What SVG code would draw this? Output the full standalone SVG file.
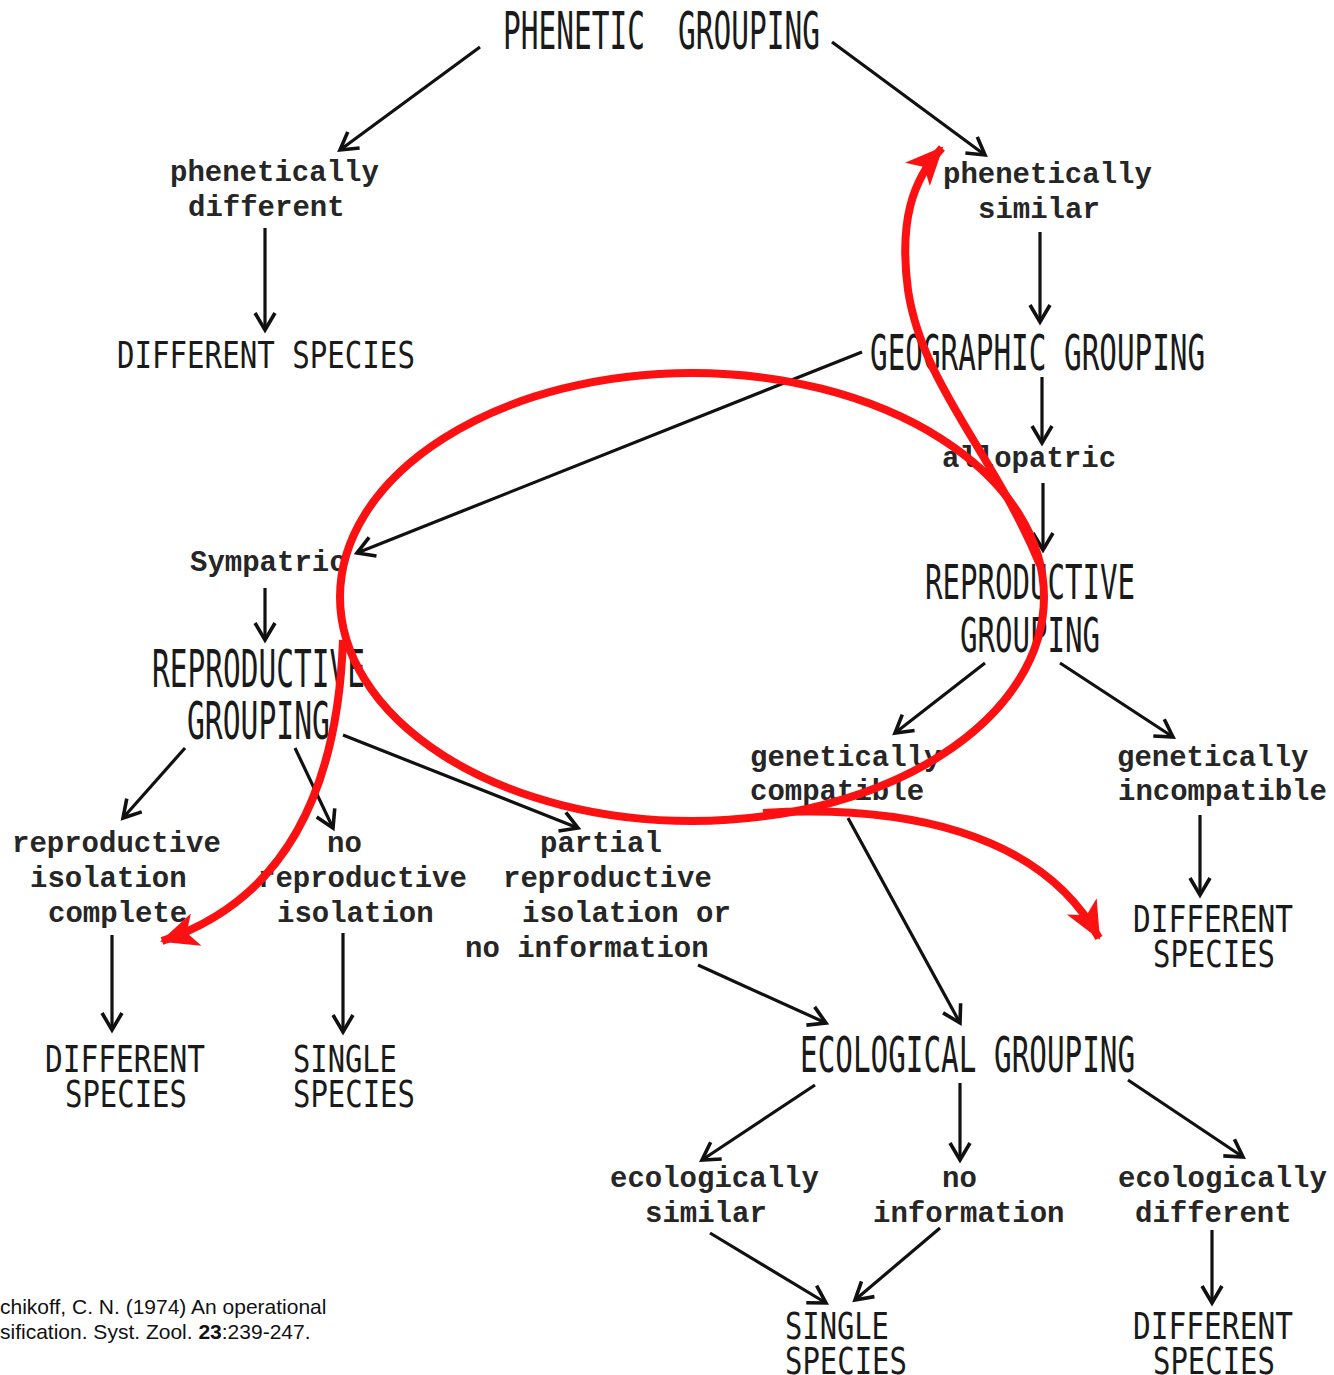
<svg xmlns="http://www.w3.org/2000/svg" width="1334" height="1375" viewBox="0 0 1334 1375">
<style>
.cap{font-family:"DejaVu Sans Mono","Liberation Mono",monospace;fill:#1a1a1a;}
.low{font-family:"Liberation Mono","Courier New",monospace;font-weight:bold;font-size:29px;fill:#262626;}
.ln{stroke:#111;stroke-width:3.2;fill:none;marker-end:url(#ah);}
.red{stroke:#fb1111;stroke-width:8;fill:none;}
.redA{stroke:#fb1111;stroke-width:8;fill:none;marker-end:url(#rh);}
.cite{font-family:"Liberation Sans",Arial,sans-serif;font-size:21px;fill:#111;}
</style>
<defs>
<marker id="ah" markerUnits="userSpaceOnUse" viewBox="-22 -13 26 26" refX="0" refY="0" markerWidth="26" markerHeight="26" orient="auto">
<path d="M-17,-10 L0,0 L-17,10" fill="none" stroke="#111" stroke-width="3.6" stroke-linejoin="miter"/>
</marker>
<marker id="rh" markerUnits="userSpaceOnUse" viewBox="-40 -20 44 40" refX="0" refY="0" markerWidth="44" markerHeight="40" orient="auto">
<path d="M2,0 L-36,-17 L-26,0 L-36,17 Z" fill="#fb1111"/>
</marker>
</defs>
<rect width="1334" height="1375" fill="#ffffff"/>

<g id="connectors">
<line class="ln" x1="480" y1="47" x2="340" y2="150"/>
<line class="ln" x1="832" y1="42" x2="985" y2="155"/>
<line class="ln" x1="265" y1="228" x2="265" y2="330"/>
<line class="ln" x1="1040" y1="232" x2="1040" y2="322"/>
<line class="ln" x1="1042" y1="377" x2="1042" y2="443"/>
<line class="ln" x1="862" y1="352" x2="357" y2="553"/>
<line class="ln" x1="1043" y1="483" x2="1043" y2="550"/>
<line class="ln" x1="265" y1="588" x2="265" y2="640"/>
<line class="ln" x1="185" y1="748" x2="123" y2="818"/>
<line class="ln" x1="295" y1="748" x2="333" y2="828"/>
<line class="ln" x1="343" y1="735" x2="578" y2="828"/>
<line class="ln" x1="985" y1="663" x2="895" y2="733"/>
<line class="ln" x1="1060" y1="663" x2="1173" y2="737"/>
<line class="ln" x1="1200" y1="815" x2="1200" y2="895"/>
<line class="ln" x1="112" y1="935" x2="112" y2="1030"/>
<line class="ln" x1="343" y1="933" x2="343" y2="1032"/>
<line class="ln" x1="698" y1="965" x2="826" y2="1023"/>
<line class="ln" x1="848" y1="818" x2="960" y2="1023"/>
<line class="ln" x1="815" y1="1085" x2="702" y2="1160"/>
<line class="ln" x1="960" y1="1083" x2="960" y2="1160"/>
<line class="ln" x1="1128" y1="1080" x2="1243" y2="1157"/>
<line class="ln" x1="710" y1="1233" x2="826" y2="1303"/>
<line class="ln" x1="940" y1="1228" x2="855" y2="1300"/>
<line class="ln" x1="1212" y1="1230" x2="1212" y2="1303"/>
</g>

<g id="phenetic-grouping"><text class="cap" font-size="52" transform="translate(503,49) scale(0.567,1)">PHENETIC</text><text class="cap" font-size="52" transform="translate(678,49) scale(0.567,1)">GROUPING</text></g>
<g id="phen-different"><text class="low" x="170" y="181">phenetically</text><text class="low" x="188" y="216">different</text></g>
<g id="different-species-1"><text class="cap" font-size="37" transform="translate(117,368) scale(0.787,1)">DIFFERENT SPECIES</text></g>
<g id="phen-similar"><text class="low" x="943" y="183">phenetically</text><text class="low" x="978" y="218">similar</text></g>
<g id="geographic-grouping"><text class="cap" font-size="50" transform="translate(870,370) scale(0.586,1)">GEOGRAPHIC GROUPING</text></g>
<g id="allopatric"><text class="low" x="942" y="467">allopatric</text></g>
<g id="sympatric"><text class="low" x="190" y="571">Sympatric</text></g>
<g id="repro-right"><text class="cap" font-size="48" transform="translate(925,599) scale(0.606,1)">REPRODUCTIVE</text><text class="cap" font-size="48" transform="translate(960,652) scale(0.606,1)">GROUPING</text></g>
<g id="repro-left"><text class="cap" font-size="52" transform="translate(152,687) scale(0.567,1)">REPRODUCTIVE</text><text class="cap" font-size="52" transform="translate(187,739) scale(0.571,1)">GROUPING</text></g>
<g id="gen-compatible"><text class="low" x="750" y="766">genetically</text><text class="low" x="750" y="800">compatible</text></g>
<g id="gen-incompatible"><text class="low" x="1117" y="766">genetically</text><text class="low" x="1118" y="800">incompatible</text></g>
<g id="different-species-2"><text class="cap" font-size="37" transform="translate(1133,932) scale(0.798,1)">DIFFERENT</text><text class="cap" font-size="37" transform="translate(1153,967) scale(0.782,1)">SPECIES</text></g>
<g id="repro-iso-complete"><text class="low" x="12" y="852">reproductive</text><text class="low" x="30" y="887">isolation</text><text class="low" x="48" y="922">complete</text></g>
<g id="no-repro-iso"><text class="low" x="327" y="852">no</text><text class="low" x="258" y="887">reproductive</text><text class="low" x="277" y="922">isolation</text></g>
<g id="partial-repro-iso"><text class="low" x="540" y="852">partial</text><text class="low" x="503" y="887">reproductive</text><text class="low" x="522" y="922">isolation or</text><text class="low" x="465" y="957">no information</text></g>
<g id="different-species-3"><text class="cap" font-size="37" transform="translate(45,1072) scale(0.798,1)">DIFFERENT</text><text class="cap" font-size="37" transform="translate(65,1107) scale(0.782,1)">SPECIES</text></g>
<g id="single-species-1"><text class="cap" font-size="37" transform="translate(293,1072) scale(0.778,1)">SINGLE</text><text class="cap" font-size="37" transform="translate(293,1107) scale(0.782,1)">SPECIES</text></g>
<g id="ecological-grouping"><text class="cap" font-size="50" transform="translate(800,1072) scale(0.586,1)">ECOLOGICAL GROUPING</text></g>
<g id="eco-similar"><text class="low" x="610" y="1187">ecologically</text><text class="low" x="645" y="1222">similar</text></g>
<g id="no-information"><text class="low" x="942" y="1187">no</text><text class="low" x="873" y="1222">information</text></g>
<g id="eco-different"><text class="low" x="1118" y="1187">ecologically</text><text class="low" x="1135" y="1222">different</text></g>
<g id="single-species-2"><text class="cap" font-size="37" transform="translate(785,1339) scale(0.778,1)">SINGLE</text><text class="cap" font-size="37" transform="translate(785,1374) scale(0.782,1)">SPECIES</text></g>
<g id="different-species-4"><text class="cap" font-size="37" transform="translate(1133,1339) scale(0.798,1)">DIFFERENT</text><text class="cap" font-size="37" transform="translate(1153,1374) scale(0.782,1)">SPECIES</text></g>

<g id="citation"><text class="cite" x="0" y="1314">chikoff, C. N. (1974) An operational</text><text class="cite" x="0" y="1339">sification. Syst. Zool. <tspan font-weight="bold">23</tspan>:239-247.</text></g>

<g id="red-annotation">
<ellipse class="red" cx="692" cy="597" rx="352" ry="224"/>
<path class="redA" d="M1040,565 C995,455 922,385 908,290 C899,222 912,180 942,148"/>
<path class="redA" d="M343,640 C338,780 292,898 162,941"/>
<path class="redA" d="M763,813 C900,805 1040,830 1099,938"/>
</g>
</svg>
